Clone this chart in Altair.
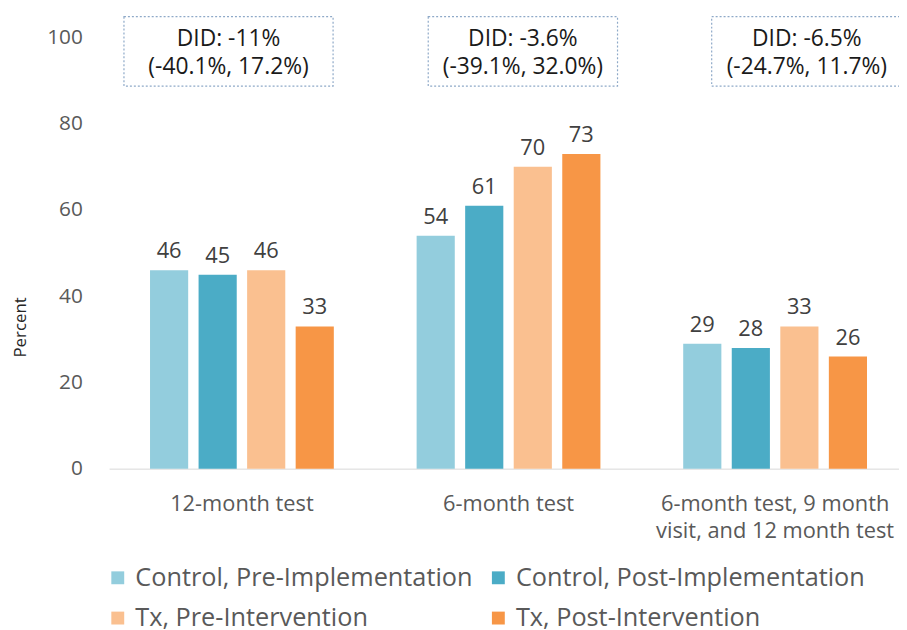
import altair as alt
import pandas as pd

# ---- data ----
GROUPS = ["12-month test", "6-month test", "6-month test, 9 month visit, and 12 month test"]
SERIES = ["Control, Pre-Implementation", "Control, Post-Implementation",
          "Tx, Pre-Intervention", "Tx, Post-Intervention"]
CTRL_PRE = [46, 54, 29]
CTRL_POST = [45, 61, 28]
TX_PRE = [46, 70, 33]
TX_POST = [33, 73, 26]
DID_LINES = ["DID: -11%", "DID: -3.6%", "DID: -6.5%"]
DID_CI = ["(-40.1%, 17.2%)", "(-39.1%, 32.0%)", "(-24.7%, 11.7%)"]
Y_TICKS = [0, 20, 40, 60, 80, 100]

# ---- styles / layout ----
COLORS = ["#93CDDD", "#4BACC6", "#FAC090", "#F79646"]
FONT = "Open Sans"
W, H = 797, 435
# annotation boxes (pixel layout, plot-relative): (left, right, text centre)
BOX_LAYOUT = [(15, 226, 120.5), (322, 513, 417.5), (608, 800, 704)]

rows = []
for s, vals in zip(SERIES, [CTRL_PRE, CTRL_POST, TX_PRE, TX_POST]):
    for g, v in zip(GROUPS, vals):
        rows.append({"group": g, "series": s, "value": v})
df = pd.DataFrame(rows)

label_expr = ("datum.value == '6-month test, 9 month visit, and 12 month test' ? "
              "['6-month test, 9 month', 'visit, and 12 month test'] : datum.label")

x = alt.X("group:N", sort=GROUPS,
          scale=alt.Scale(paddingInner=0.28, paddingOuter=0.1215, align=0.569),
          axis=alt.Axis(title=None, labelAngle=0, labelFontSize=22, labelColor="#595959",
                        labelFont=FONT, labelPadding=25, labelLineHeight=27, ticks=False,
                        tickSize=0, grid=False, domainColor="#D9D9D9", domainWidth=1,
                        labelLimit=600, labelExpr=label_expr))
xo = alt.XOffset("series:N", sort=SERIES,
                 scale=alt.Scale(paddingInner=0.214, paddingOuter=0.084))
y = alt.Y("value:Q", scale=alt.Scale(domain=[0, 100]),
          axis=alt.Axis(values=Y_TICKS, grid=False, domain=False, ticks=False, tickSize=0,
                        labelFontSize=21, labelColor="#595959", labelFont=FONT, labelPadding=27,
                        title="Percent", titleFontSize=17, titleFontWeight="normal",
                        titleColor="#262626", titleFont=FONT, titleX=-89, titleY=292,
                        titleAngle=270, titleAlign="center", titleBaseline="middle"))
color = alt.Color("series:N", sort=SERIES,
                  scale=alt.Scale(domain=SERIES, range=COLORS),
                  legend=alt.Legend(title=None, orient="none", legendX=-4, legendY=532,
                                    direction="horizontal", columns=2, symbolType="square",
                                    symbolSize=169, symbolStrokeWidth=0, labelFontSize=25.5,
                                    labelColor="#595959", labelFont=FONT, labelOffset=5,
                                    columnPadding=13, rowPadding=14, labelLimit=600))

base = alt.Chart(df)
bars = base.mark_bar().encode(x=x, xOffset=xo, y=y, color=color)
labels = base.mark_text(baseline="alphabetic", dy=-12, fontSize=22, color="#404040",
                        font=FONT).encode(x=x, xOffset=xo, y=y, text="value:Q")

layers = [bars, labels]
for i in range(3):
    left, right, cx = BOX_LAYOUT[i]
    one = pd.DataFrame({"line1": [DID_LINES[i]], "line2": [DID_CI[i]]})
    box = alt.Chart(one).mark_rect(fill="white", stroke="#8EA9C8", strokeDash=[2, 2],
                                   strokeWidth=1.2).encode(
        x=alt.value(left), x2=alt.value(right), y=alt.value(-21), y2=alt.value(49))
    txt = alt.Chart(one).transform_calculate(
        label="datum.line1 + '|' + datum.line2").mark_text(
        lineBreak="|", fontSize=23, font=FONT, color="#1a1a1a", baseline="middle",
        lineHeight=28).encode(x=alt.value(cx), y=alt.value(2), text="label:N")
    layers += [box, txt]

chart = alt.layer(*layers).properties(
    width=W, height=H,
    padding={"left": 102, "top": 27, "right": 0, "bottom": 160},
    autosize=alt.AutoSizeParams(type="none"),
).configure(font=FONT).configure_view(stroke="transparent", strokeWidth=0).configure_axisY(
    grid=False, domain=False
)

chart.save("out.html", embed_options={"renderer": "svg", "actions": False})
